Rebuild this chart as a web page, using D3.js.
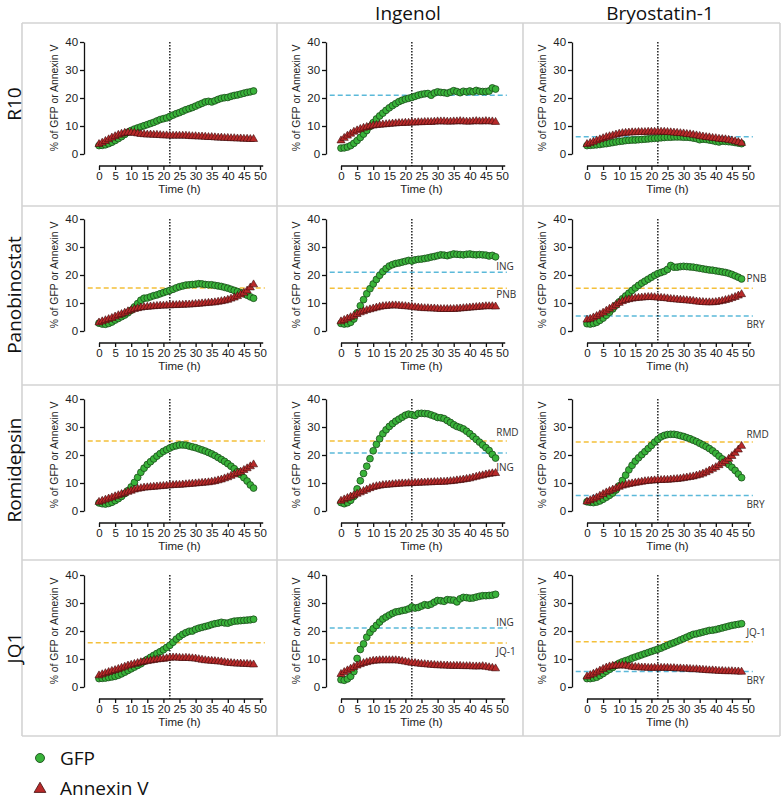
<!DOCTYPE html>
<html><head><meta charset="utf-8">
<script src="https://cdn.jsdelivr.net/npm/d3@7"></script>
<style>
html,body{margin:0;padding:0;background:#fff;}
svg{display:block;}
</style></head>
<body>
<svg id="chart" width="781" height="801"></svg>
<script>
// ---------- DATA ----------
const hours = [0,1,2,3,4,5,6,7,8,9,10,11,12,13,14,15,16,17,18,19,20,21,22,23,24,25,26,27,28,29,30,31,32,33,34,35,36,37,38,39,40,41,42,43,44,45,46,47,48];
const rowNames = ["R10","Panobinostat","Romidepsin","JQ1"];
const colNames = ["","Ingenol","Bryostatin-1"];
const xTicks = [0,5,10,15,20,25,30,35,40,45,50];
const yTicks = [0,10,20,30,40];
const markerTime = 22;

// R10
const gfp_R10_none = [3.0,3.1,3.3,3.7,4.2,4.8,5.5,6.2,7.0,7.8,8.4,8.9,9.3,9.7,10.1,10.5,10.9,11.3,11.8,12.3,12.6,12.9,13.4,13.9,14.4,14.8,15.3,15.8,16.2,16.6,17.1,17.6,18.1,18.6,18.8,18.6,19.0,19.5,19.9,20.1,20.2,20.6,20.9,21.1,21.4,21.7,22.0,22.2,22.5];
const ann_R10_none = [3.5,4.0,4.6,5.2,5.8,6.3,6.8,7.2,7.5,7.6,7.6,7.5,7.3,7.1,7.0,6.9,6.9,6.8,6.8,6.7,6.6,6.6,6.5,6.5,6.5,6.5,6.5,6.5,6.4,6.3,6.3,6.2,6.2,6.1,6.0,6.0,5.9,5.8,5.8,5.7,5.7,5.6,5.6,5.5,5.5,5.4,5.4,5.3,5.3];
const gfp_R10_ING = [2.1,2.2,2.5,3.0,3.8,4.8,5.9,7.1,8.4,9.8,11.2,12.5,13.6,14.6,15.6,16.5,17.3,18.0,18.7,19.2,19.6,19.9,20.2,20.6,21.0,21.3,21.5,21.6,21.0,21.8,22.2,22.0,21.9,21.7,22.1,22.6,22.3,21.9,22.4,22.2,22.5,22.2,22.7,22.4,22.3,22.3,22.5,23.6,23.2];
const ann_R10_ING = [4.8,5.7,6.5,7.2,7.9,8.4,8.9,9.3,9.6,9.9,10.1,10.3,10.4,10.5,10.6,10.7,10.8,10.9,11.0,11.0,11.1,11.1,11.2,11.2,11.3,11.3,11.4,11.4,11.4,11.5,11.6,11.6,11.6,11.5,11.5,11.6,11.6,11.7,11.6,11.5,11.5,11.6,11.7,11.6,11.6,11.7,11.6,11.6,11.4];
const gfp_R10_BRY = [3.0,3.1,3.2,3.3,3.4,3.6,3.7,3.9,4.1,4.3,4.5,4.6,4.8,4.9,5.0,5.0,5.1,5.2,5.3,5.4,5.5,5.6,5.7,5.8,5.9,6.0,6.0,6.1,6.1,6.1,6.0,6.0,5.9,5.7,5.5,5.1,5.3,5.2,5.0,4.8,4.5,4.3,4.6,4.5,4.4,4.3,4.1,3.9,3.7];
const ann_R10_BRY = [3.5,3.9,4.3,4.8,5.2,5.6,6.0,6.3,6.6,6.9,7.2,7.4,7.5,7.6,7.7,7.7,7.8,7.8,7.8,7.9,7.9,7.9,7.9,7.9,7.9,7.8,7.7,7.6,7.5,7.4,7.3,7.1,7.0,6.8,6.6,6.4,6.2,6.0,5.9,5.7,5.6,5.4,5.3,5.2,5.0,4.8,4.5,4.2,3.9];
// Panobinostat
const gfp_PNB_none = [2.8,2.5,2.4,2.7,3.2,3.9,4.5,5.1,5.7,6.5,7.4,8.6,9.8,11.0,11.7,11.8,12.2,12.6,12.9,13.3,13.7,14.1,14.5,14.9,15.4,15.8,16.1,16.4,16.5,16.6,16.7,16.9,16.8,16.6,16.5,16.5,16.3,16.1,15.9,15.6,15.3,14.9,14.5,14.1,13.7,13.3,12.8,12.2,11.7];
const ann_PNB_none = [3.0,3.4,3.8,4.2,4.6,5.1,5.6,6.0,6.5,7.0,7.4,7.8,8.1,8.3,8.5,8.6,8.7,8.8,8.9,9.0,9.0,9.1,9.1,9.2,9.2,9.3,9.3,9.4,9.4,9.5,9.6,9.7,9.8,9.9,10.0,10.1,10.2,10.4,10.6,10.8,11.1,11.5,11.9,12.4,13.0,13.6,14.4,15.5,16.6];
const gfp_PNB_ING = [2.7,2.5,2.6,3.1,4.3,6.5,9.0,11.2,13.3,15.1,16.8,18.4,19.9,21.2,22.3,23.2,23.7,24.1,24.3,24.6,24.9,25.2,25.0,25.4,25.6,25.7,25.9,26.1,26.4,26.6,26.9,27.2,27.1,26.9,27.2,27.5,27.4,27.3,27.2,27.4,27.5,27.3,27.2,27.3,27.2,27.1,26.8,27.0,26.5];
const ann_PNB_ING = [3.4,3.9,4.4,4.9,5.4,6.0,6.6,7.0,7.4,7.7,8.0,8.3,8.6,8.8,8.9,9.0,9.1,9.1,9.0,8.9,8.8,8.7,8.6,8.4,8.3,8.2,8.1,8.1,8.0,8.0,7.9,7.8,7.8,7.8,7.8,7.8,7.9,8.0,8.1,8.2,8.3,8.4,8.5,8.6,8.7,8.8,8.8,8.8,8.7];
const gfp_PNB_BRY = [2.6,2.5,2.7,3.1,3.8,4.6,5.6,6.7,7.9,9.2,10.4,11.5,12.5,13.5,14.5,15.4,16.3,17.1,17.8,18.5,19.2,19.9,20.5,20.9,21.3,22.0,23.4,22.8,22.8,23.0,23.1,23.0,22.9,22.8,22.6,22.4,22.2,22.0,21.8,21.7,21.5,21.3,21.1,20.9,20.6,20.2,19.7,19.2,18.6];
const ann_PNB_BRY = [4.0,4.3,4.8,5.3,5.9,6.5,7.2,7.9,8.6,9.3,10.0,10.6,11.0,11.3,11.5,11.7,11.8,11.9,12.0,12.1,12.1,12.0,11.9,11.8,11.7,11.6,11.4,11.3,11.2,11.1,11.0,10.9,10.8,10.7,10.5,10.4,10.3,10.2,10.2,10.2,10.3,10.5,10.7,11.0,11.3,11.7,12.1,12.6,13.1];
// Romidepsin
const gfp_RMD_none = [2.9,2.6,2.5,2.7,3.1,3.7,4.4,5.2,6.2,7.3,8.6,10.2,12.0,13.8,15.3,16.6,17.6,18.6,19.6,20.5,21.3,21.9,22.5,23.0,23.3,23.6,23.6,23.5,23.2,22.9,22.6,22.2,21.8,21.4,20.9,20.4,19.8,19.1,18.4,17.7,16.9,16.0,15.1,14.1,13.0,11.9,10.7,9.3,8.2];
const ann_RMD_none = [3.2,3.6,4.0,4.4,4.8,5.2,5.6,6.0,6.4,6.8,7.2,7.6,7.9,8.1,8.3,8.4,8.5,8.6,8.7,8.8,8.9,9.0,9.1,9.2,9.3,9.3,9.4,9.5,9.6,9.7,9.8,9.9,10.0,10.1,10.2,10.4,10.6,10.9,11.2,11.6,12.0,12.5,13.0,13.5,14.0,14.6,15.2,15.9,16.6];
const gfp_RMD_ING = [3.0,2.6,3.0,3.8,5.2,7.9,10.8,13.4,16.0,18.7,21.5,23.8,25.8,27.6,29.0,30.2,31.2,32.1,32.8,33.5,34.2,34.6,34.4,34.1,34.8,34.9,34.8,34.7,34.3,33.9,33.4,33.3,33.0,32.3,31.6,30.8,30.2,29.8,29.3,28.5,27.6,26.6,25.6,24.6,23.6,22.6,21.6,20.2,18.9];
const ann_RMD_ING = [3.6,4.1,4.6,5.1,5.6,6.1,6.6,7.1,7.6,8.1,8.5,8.8,9.0,9.2,9.3,9.4,9.5,9.6,9.7,9.8,9.8,9.9,9.9,10.0,10.0,10.1,10.1,10.2,10.2,10.3,10.3,10.4,10.4,10.5,10.6,10.7,10.9,11.0,11.2,11.4,11.6,11.9,12.2,12.5,12.7,13.0,13.2,13.4,13.5];
const gfp_RMD_BRY = [3.3,3.1,3.0,3.2,3.6,4.2,4.9,5.6,6.4,7.5,9.0,10.9,12.8,14.7,16.3,17.8,19.0,20.1,21.2,22.3,23.4,24.6,25.6,26.5,27.0,27.3,27.4,27.4,27.2,26.9,26.6,26.2,25.8,25.3,24.8,24.2,23.6,23.0,22.3,21.5,20.6,19.6,18.6,17.6,16.6,15.6,14.5,13.2,11.9];
const ann_RMD_BRY = [3.3,3.8,4.3,4.8,5.4,6.0,6.6,7.1,7.6,8.1,8.6,9.0,9.3,9.6,9.8,10.0,10.2,10.4,10.6,10.7,10.8,10.9,11.0,11.0,11.1,11.1,11.2,11.3,11.4,11.5,11.7,11.9,12.1,12.3,12.6,12.9,13.3,13.8,14.4,15.0,15.6,16.3,17.0,17.7,18.6,19.6,20.7,21.9,23.2];
// JQ1
const gfp_JQ1_none = [3.0,3.1,3.2,3.4,3.6,3.8,4.2,4.7,5.3,5.9,6.5,7.1,7.7,8.3,9.1,9.9,10.6,11.3,12.0,12.6,13.3,14.1,14.9,16.0,17.1,18.0,18.8,19.4,19.9,20.0,20.6,21.0,21.3,21.6,21.9,22.3,22.6,22.8,23.1,22.9,22.8,23.2,23.5,23.6,23.7,23.8,23.9,24.0,24.2];
const ann_JQ1_none = [4.1,4.5,4.9,5.3,5.7,6.0,6.4,6.8,7.2,7.6,7.9,8.2,8.5,8.8,9.0,9.2,9.4,9.6,9.8,9.9,10.0,10.2,10.4,10.5,10.5,10.4,10.3,10.4,10.3,10.2,10.1,9.9,9.7,9.5,9.4,9.3,9.2,9.1,9.0,8.8,8.6,8.5,8.4,8.3,8.3,8.2,8.2,8.1,8.0];
const gfp_JQ1_ING = [2.6,2.4,2.9,3.8,5.5,10.2,13.4,15.4,17.8,19.5,20.8,22.0,23.2,24.3,25.0,25.7,26.3,26.8,27.0,27.3,27.5,27.9,28.6,28.2,28.4,28.9,29.4,29.2,29.6,30.3,30.9,30.8,30.6,31.2,31.1,31.0,30.4,31.5,32.0,31.9,31.7,31.8,32.1,32.4,32.6,32.6,32.7,32.8,33.1];
const ann_JQ1_ING = [4.6,5.3,5.9,6.5,7.1,7.6,8.1,8.5,8.8,9.1,9.3,9.4,9.5,9.5,9.5,9.5,9.5,9.5,9.4,9.2,9.0,8.8,8.6,8.5,8.3,8.2,8.1,8.0,7.9,7.8,7.7,7.7,7.6,7.6,7.5,7.5,7.5,7.5,7.4,7.4,7.4,7.3,7.3,7.3,7.4,7.2,7.0,6.8,6.6];
const gfp_JQ1_BRY = [3.0,3.0,3.2,3.5,4.1,4.8,5.6,6.3,7.0,7.8,8.5,9.0,9.4,9.8,10.3,10.7,11.1,11.5,11.9,12.3,12.7,13.1,13.5,13.9,14.4,14.9,15.4,15.8,16.3,16.8,17.3,17.8,18.3,18.8,19.0,19.3,19.6,19.9,20.2,20.3,20.5,20.8,21.1,21.4,21.7,22.0,22.2,22.4,22.6];
const ann_JQ1_BRY = [3.7,4.2,4.7,5.2,5.8,6.4,6.9,7.3,7.5,7.6,7.6,7.7,7.6,7.4,7.2,7.1,7.0,6.9,6.9,6.8,6.8,6.8,6.8,6.8,6.8,6.8,6.7,6.7,6.6,6.6,6.5,6.5,6.4,6.3,6.3,6.2,6.1,6.0,5.9,5.9,5.8,5.7,5.7,5.6,5.6,5.6,5.5,5.5,5.4];

// Reference (single-drug GFP level) lines
const refRows   = [0,0, 1,1,1, 1,1, 2, 2,2, 2,2, 3, 3,3, 3,3];
const refCols   = [1,2, 0,1,1, 2,2, 0, 1,1, 2,2, 0, 1,1, 2,2];
const refValues = [21.0,6.2, 15.4,21.0,15.3, 15.3,5.4, 25.0, 25.0,20.7, 24.6,5.5, 15.8, 21.1,15.7, 16.2,5.5];
const refKinds  = ["ing","bry","lra","ing","lra","lra","bry","lra","lra","ing","lra","bry","lra","ing","lra","lra","bry"];
// line labels
const labRows = [1,1,1,1, 2,2,2,2, 3,3,3,3];
const labCols = [1,1,2,2, 1,1,2,2, 1,1,2,2];
const labText = ["ING","PNB","PNB","BRY","RMD","ING","RMD","BRY","ING","JQ-1","JQ-1","BRY"];
const labVals = [23.2,12.9,18.6,2.5, 27.9,15.7,27.5,2.5, 23.2,12.6,19.3,2.5];

const gfpSeries = [
  [gfp_R10_none, gfp_R10_ING, gfp_R10_BRY],
  [gfp_PNB_none, gfp_PNB_ING, gfp_PNB_BRY],
  [gfp_RMD_none, gfp_RMD_ING, gfp_RMD_BRY],
  [gfp_JQ1_none, gfp_JQ1_ING, gfp_JQ1_BRY]
];
const annSeries = [
  [ann_R10_none, ann_R10_ING, ann_R10_BRY],
  [ann_PNB_none, ann_PNB_ING, ann_PNB_BRY],
  [ann_RMD_none, ann_RMD_ING, ann_RMD_BRY],
  [ann_JQ1_none, ann_JQ1_ING, ann_JQ1_BRY]
];

// ---------- LAYOUT ----------
const svg = d3.select("#chart");
const cellX = [22, 277, 523, 780];
const cellY = [23, 206, 385, 560, 736];
const axisXs = [84, 326, 572];
const yTops = [42, 219, 399, 575];
const plotH = 112;
const axisFont = "'Liberation Sans', Arial, sans-serif";
const titleFont = "'Open Sans', 'Noto Sans', sans-serif";
const refColor = {ing:"#5bb9d9", bry:"#5bb9d9", lra:"#f4c03a"};
const labStartX = [0, 48.2, 49.5];

// grid
const grid = svg.append("g").attr("stroke","#d3d3d3").attr("stroke-width",1.6).attr("fill","none");
cellY.forEach(y => grid.append("line").attr("x1",cellX[0]).attr("x2",cellX[3]).attr("y1",y).attr("y2",y));
cellX.forEach(x => grid.append("line").attr("x1",x).attr("x2",x).attr("y1",cellY[0]).attr("y2",cellY[4]));

// column headers
[[1,408],[2,660]].forEach(([c,cx]) => {
  svg.append("text").attr("x",cx).attr("y",20).attr("text-anchor","middle")
    .attr("font-family",titleFont).attr("font-size",19).attr("fill","#111").text(colNames[c]);
});
// row labels
const rowCY = [104, 295, 470, 648];
rowNames.forEach((n,r) => {
  svg.append("text").attr("transform",`translate(21,${rowCY[r]}) rotate(-90)`)
    .attr("text-anchor","middle").attr("font-family",titleFont).attr("font-size",19).attr("fill","#111").text(n);
});

const triangle = d3.symbol().type(d3.symbolTriangle).size(28);

for (let r=0;r<4;r++){
  for (let c=0;c<3;c++){
    const ax = axisXs[c];
    const y0 = yTops[r] + plotH;
    const x = d3.scaleLinear().domain([0,50]).range([ax+15, ax+176]);
    const y = d3.scaleLinear().domain([0,40]).range([y0, y0-plotH]);
    const g = svg.append("g");

    // y axis
    const yAx = d3.axisLeft(y).tickValues(yTicks).tickSize(4).tickSizeOuter(0)
      .tickFormat(d => (r===2 && c===2 && d===40) ? "" : d);
    const ya = g.append("g").attr("transform",`translate(${ax},0)`).call(yAx);
    // x axis
    const xAx = d3.axisBottom(x).tickValues(xTicks).tickSize(4).tickSizeOuter(0);
    const xa = g.append("g").attr("transform",`translate(0,${y0+12})`).call(xAx);
    [ya,xa].forEach(a => {
      a.selectAll("path,line").attr("stroke","#111").attr("stroke-width",1.3);
      a.selectAll("text").attr("font-family",axisFont).attr("font-size",11.5).attr("fill","#222");
    });
    xa.select("path.domain").attr("d",`M${x(0)},0H${x(51)}`);
    xa.selectAll("text").attr("dy","0.6em");
    ya.selectAll("text").attr("dx","0.1em");

    // axis titles
    g.append("text").attr("transform",`translate(${ax-26},${y(20)}) rotate(-90)`)
      .attr("text-anchor","middle").attr("font-family",axisFont).attr("font-size",10.4).attr("fill","#222")
      .text("% of GFP or Annexin V");
    g.append("text").attr("x",x(25)).attr("y",y0+39).attr("text-anchor","middle")
      .attr("font-family",axisFont).attr("font-size",11.5).attr("fill","#222").text("Time (h)");

    // reference lines
    refValues.forEach((v,i) => {
      if (refRows[i]!==r || refCols[i]!==c) return;
      g.append("line").attr("x1",x(-3.5)).attr("x2",x(51.5)).attr("y1",y(v)).attr("y2",y(v))
        .attr("stroke",refColor[refKinds[i]]).attr("stroke-width",1.5).attr("stroke-dasharray","5,3");
    });
    labText.forEach((t,i) => {
      if (labRows[i]!==r || labCols[i]!==c) return;
      g.append("text").attr("x",x(labStartX[c])).attr("y",y(labVals[i])).attr("dy","0.35em")
        .attr("font-family",titleFont).attr("font-size",10).attr("fill","#333").text(t);
    });

    // dotted time marker
    g.append("line").attr("x1",x(markerTime)).attr("x2",x(markerTime)).attr("y1",y(40)).attr("y2",y0+12)
      .attr("stroke","#111").attr("stroke-width",1.4).attr("stroke-dasharray","1.4,1.6");

    // GFP circles
    g.append("g").selectAll("circle").data(hours).join("circle")
      .attr("cx",h => x(h)).attr("cy",(h,i) => y(gfpSeries[r][c][i])).attr("r",3.4)
      .attr("fill","#39b33a").attr("stroke","#1b4d1b").attr("stroke-width",0.8);
    // Annexin triangles
    g.append("g").selectAll("path").data(hours).join("path")
      .attr("d",triangle)
      .attr("transform",(h,i) => `translate(${x(h)},${y(annSeries[r][c][i])})`)
      .attr("fill","#b82a2a").attr("stroke","#3d0a0a").attr("stroke-width",0.6);
  }
}

// legend
svg.append("circle").attr("cx",40).attr("cy",758).attr("r",4.5)
  .attr("fill","#39b33a").attr("stroke","#1b4d1b").attr("stroke-width",0.9);
svg.append("text").attr("x",60).attr("y",765).attr("font-family",titleFont).attr("font-size",19).attr("fill","#111").text("GFP");
svg.append("path").attr("d",d3.symbol().type(d3.symbolTriangle).size(60)).attr("transform","translate(40,789)")
  .attr("fill","#b82a2a").attr("stroke","#3d0a0a").attr("stroke-width",0.8);
svg.append("text").attr("x",60).attr("y",795).attr("font-family",titleFont).attr("font-size",19).attr("fill","#111").text("Annexin V");
</script>
</body></html>
